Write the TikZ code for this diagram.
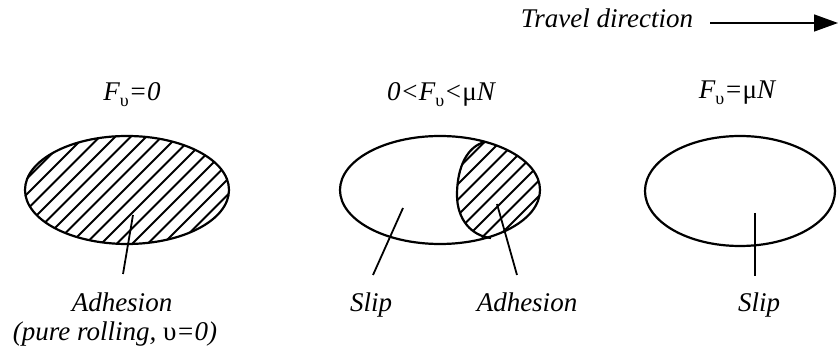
\documentclass[tikz,border=0pt]{standalone}
\usepackage{fontspec}
\setmainfont{Liberation Serif}
\usetikzlibrary{arrows.meta}
\newcommand\Fv{F\raisebox{-0.45ex}{\fontsize{18}{18}\selectfont\upshape υ}}
\begin{document}
\begin{tikzpicture}[x=1pt,y=-1pt,
  lbl/.style={font=\fontsize{27}{31}\selectfont\itshape, inner sep=0pt, anchor=base},
  outline/.style={line width=2.2pt},
  hatch/.style={line width=1.9pt},
  leader/.style={line width=1.8pt},
  travel/.style={line width=1.5pt, -{Triangle[length=24pt,width=17pt]}}]
\useasboundingbox (0,0) rectangle (839,352);

% travel direction
\node[lbl] (tdir) at (607,28) {Travel direction};
\coordinate (ta) at (710,23);
\coordinate (tb) at (838,23);
\draw[travel] (ta) -- (tb);

% titles
\node[lbl] (t1) at (132,101) {\Fv=0};
\node[lbl] (t2) at (441,101) {0<\Fv<\upshape μ\itshape N};
\node[lbl] (t3) at (737,99) {\Fv=\upshape μ\itshape N};

% ellipse 1, fully hatched
\begin{scope}
  \clip (127,190) ellipse [x radius=102, y radius=54];
  \foreach \c in {190,205.5,...,450} \draw[hatch] (\c,0) -- (\c-400,400);
\end{scope}
\draw[outline] (127,190) ellipse [x radius=102, y radius=54];

% ellipse 2, partially hatched
\begin{scope}
  \clip (440,190) ellipse [x radius=100, y radius=54];
  \clip (485,142) .. controls (468,146) and (457,166) .. (457,195)
        .. controls (457,220) and (472,236) .. (493,242) -- (570,270) -- (570,110) -- cycle;
  \foreach \c in {580,595.5,...,800} \draw[hatch] (\c,0) -- (\c-400,400);
\end{scope}
\draw[outline] (485,142) .. controls (468,146) and (457,166) .. (457,195)
        .. controls (457,220) and (472,236) .. (491,238);
\draw[outline] (440,190) ellipse [x radius=100, y radius=54];

% ellipse 3
\draw[outline] (740,191) ellipse [x radius=95, y radius=55];

% leaders and labels
\coordinate (p1a) at (133,215); \coordinate (p1b) at (123,274);
\draw[leader] (p1a) -- (p1b);
\node[lbl] (l1) at (122,312) {Adhesion};
\node[lbl] (l1b) at (115,341) {(pure rolling, \upshape υ\itshape =0)};

\coordinate (p2a) at (403,208); \coordinate (p2b) at (373,275);
\draw[leader] (p2a) -- (p2b);
\node[lbl] (l2) at (371,312) {Slip};

\coordinate (p3a) at (497,204); \coordinate (p3b) at (517,275);
\draw[leader] (p3a) -- (p3b);
\node[lbl] (l3) at (527,312) {Adhesion};

\coordinate (p4a) at (755,213); \coordinate (p4b) at (755,276);
\draw[leader] (p4a) -- (p4b);
\node[lbl] (l4) at (759,312) {Slip};
\end{tikzpicture}
\end{document}
